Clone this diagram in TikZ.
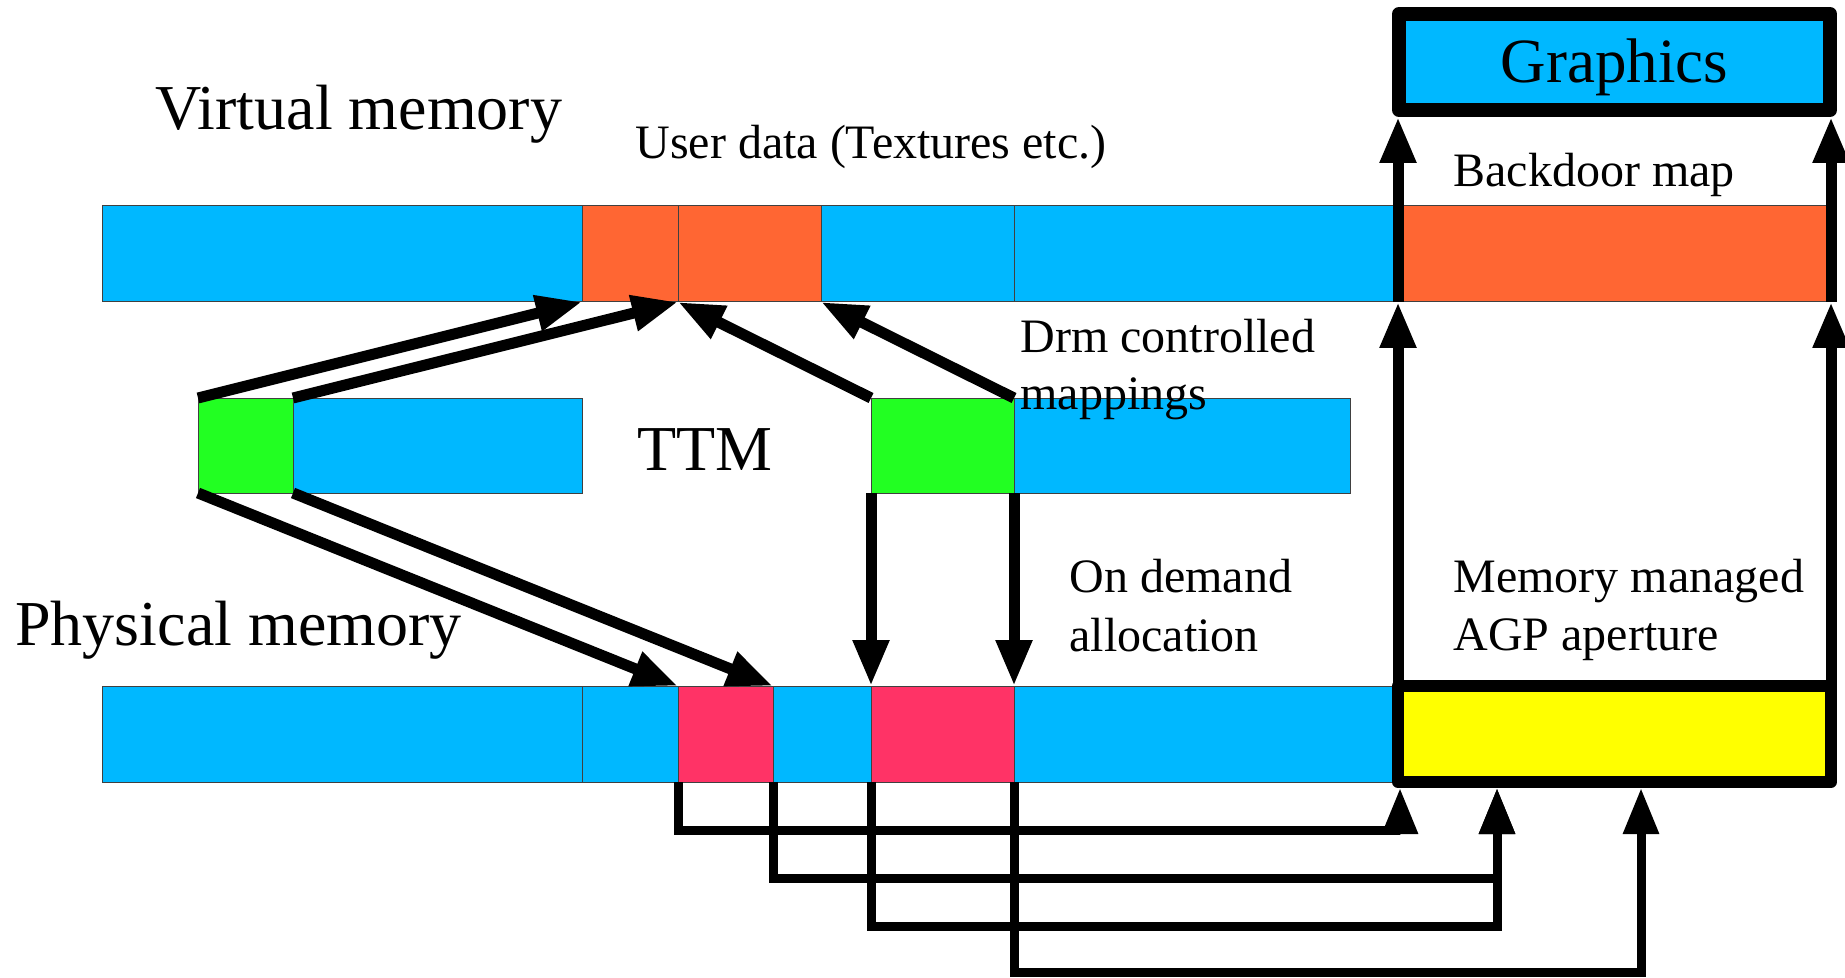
\documentclass[tikz,border=0pt]{standalone}
\usepackage{fontspec}
\setmainfont{Liberation Serif}
\usetikzlibrary{arrows.meta}
\definecolor{memblue}{RGB}{0,184,255}
\definecolor{memorange}{RGB}{255,102,51}
\definecolor{memgreen}{RGB}{34,255,34}
\definecolor{mempink}{RGB}{255,51,102}
\definecolor{memyellow}{RGB}{255,255,0}
\tikzset{
  cell/.style={draw=black!75, line width=0.5pt, inner sep=0pt, outer sep=0pt,
    anchor=north west, minimum height=48pt},
  conn/.style={line width=5.5pt, -{Triangle[length=23pt,width=17pt]}},
  connlow/.style={line width=4.5pt, -{Triangle[length=23pt,width=17pt]}},
  bigtext/.style={font=\fontsize{32}{38}\selectfont, inner sep=0pt, anchor=base west},
  smalltext/.style={font=\fontsize{24}{29}\selectfont, inner sep=0pt, anchor=base west},
}
\begin{document}
\begin{tikzpicture}[x=0.5pt, y=-0.5pt]
\useasboundingbox (0,0) rectangle (1845,978);

% virtual memory row
\node[cell, fill=memblue,   minimum width=240pt]  (v1) at (102,206) {};
\node[cell, fill=memorange, minimum width=48pt]   (v2) at (582,206) {};
\node[cell, fill=memorange, minimum width=71.5pt] (v3) at (678,206) {};
\node[cell, fill=memblue,   minimum width=96.5pt] (v4) at (821,206) {};
\node[cell, fill=memblue,   minimum width=191.5pt](v5) at (1014,206) {};
\node[cell, fill=memorange, minimum width=217pt]  (v6) at (1397,206) {};

% TTM row
\node[cell, fill=memgreen, minimum width=47.5pt, minimum height=47.5pt]  (t1) at (198,398) {};
\node[cell, fill=memblue,  minimum width=144.5pt, minimum height=47.5pt] (t2) at (293,398) {};
\node[cell, fill=memgreen, minimum width=71.5pt, minimum height=47.5pt]  (t3) at (871,398) {};
\node[cell, fill=memblue,  minimum width=168pt, minimum height=47.5pt]   (t4) at (1014,398) {};

% physical memory row
\node[cell, fill=memblue, minimum width=240pt]   (p1) at (102,686) {};
\node[cell, fill=memblue, minimum width=48pt]    (p2) at (582,686) {};
\node[cell, fill=mempink, minimum width=47.5pt]  (p3) at (678,686) {};
\node[cell, fill=memblue, minimum width=49pt]    (p4) at (773,686) {};
\node[cell, fill=mempink, minimum width=71.5pt]  (p5) at (871,686) {};
\node[cell, fill=memblue, minimum width=192pt]   (p6) at (1014,686) {};
\node[draw=black, line width=6pt, fill=memyellow, inner sep=0pt, outer sep=0pt,
      anchor=north west, minimum width=216.5pt, minimum height=48pt, line join=round]
      (agp) at (1398,686) {};

% graphics box
\node[draw=black, line width=7pt, fill=memblue, inner sep=0pt, outer sep=0pt,
      minimum width=215.5pt, minimum height=48pt, text height=21pt, text depth=0pt,
      line join=round, font=\fontsize{31.5}{38}\selectfont]
      (gfx) at (1614.5,62) {Graphics};

% coordinates where the lower connectors meet the AGP box
\coordinate (a1) at ([xshift=1pt,yshift=-3pt]agp.south west);
\coordinate (a2) at (1497,788);
\coordinate (a4) at (1641,788);
\coordinate (g1) at (1398,117);
\coordinate (g2) at (1831,117);

% backdoor map lines
\draw[conn] (agp.north west) -- (agp.north west |- v6.south);
\draw[conn] (agp.north west |- v6.south) -- (g1);
\draw[conn] (agp.north east) -- (agp.north east |- v6.south);
\draw[conn] (agp.north east |- v6.south) -- (g2);

% drm controlled mappings
\draw[conn] (t1.north west) -- (v2.south west);
\draw[conn] (t1.north east) -- (v3.south west);
\draw[conn] (t3.north west) -- (v3.south west);
\draw[conn] (t3.north east) -- (v4.south west);

% on demand allocation
\draw[conn] (t1.south west) -- (p3.north west);
\draw[conn] (t1.south east) -- (p4.north west);
\draw[conn] (t3.south west) -- (p5.north west);
\draw[conn] (t3.south east) -- (p6.north west);

% lower connectors into the AGP aperture
\draw[connlow] (p3.south west) -- ++(0,48) -| (a1);
\draw[connlow] (p4.south west) -- ++(0,96) -| (a2);
\draw[connlow] (p5.south west) -- ++(0,144) -| (a2);
\draw[connlow] (p6.south west) -- ++(0,190) -| (a4);

% labels
\node[bigtext] (lvirt) at (155,130) {Virtual memory};
\node[bigtext] (lphys) at (15,645) {Physical memory};
\node[bigtext] (lttm) at (637,470) {TTM};
\node[smalltext] (luser) at (635,159) {User data (Textures etc.)};
\node[smalltext] (lback) at (1453,187) {Backdoor map};
\node[smalltext] (ldrm1) at (1020,352) {Drm controlled};
\node[smalltext] (ldrm2) at (1020,409) {mappings};
\node[smalltext] (lond1) at (1069,592) {On demand};
\node[smalltext] (lond2) at (1069,651) {allocation};
\node[smalltext] (lmem1) at (1453,592) {Memory managed};
\node[smalltext] (lmem2) at (1453,650) {AGP aperture};
\end{tikzpicture}
\end{document}
